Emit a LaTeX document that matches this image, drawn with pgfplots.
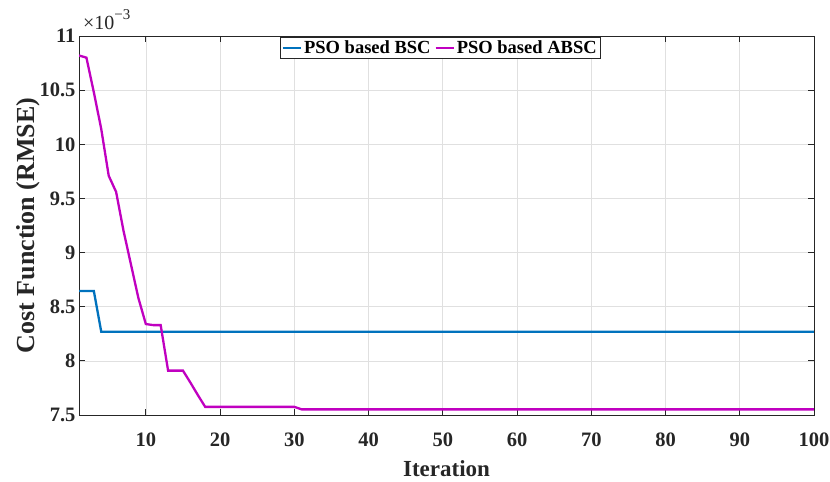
\documentclass[border=0pt]{standalone}
\usepackage{fontspec}
\setmainfont{Liberation Serif}
\usepackage{pgfplots}
\pgfplotsset{compat=1.18}
\definecolor{mblue}{RGB}{0,114,189}
\definecolor{mmag}{RGB}{192,0,192}
\definecolor{axgray}{RGB}{38,38,38}
\begin{document}
\begin{tikzpicture}
\begin{axis}[
  name=main,
  at={(0,0)}, anchor=south west,
  scale only axis,
  clip mode=individual,
  width=735bp, height=379bp,
  xmin=1, xmax=100, ymin=7.5, ymax=11,
  xtick={10,20,...,100},
  ytick={7.5,8,8.5,9,9.5,10,10.5,11},
  /pgf/number format/assume math mode=true,
  tick label style={font=\fontsize{20.5bp}{24bp}\selectfont\bfseries, text=axgray},
  xticklabel style={anchor=base, yshift=-31.5bp},
  xlabel={Iteration},
  ylabel={Cost Function (RMSE)},
  xlabel style={font=\fontsize{23bp}{27bp}\selectfont\bfseries, text=axgray,
    at={(axis description cs:0.5,0)}, anchor=base, yshift=-61.5bp},
  ylabel style={font=\fontsize{26bp}{30bp}\selectfont\bfseries, text=axgray,
    at={(axis description cs:-0.0599,0.5)}, anchor=base, rotate=0},
  grid=major,
  major grid style={color=black!12, line width=0.6bp},
  axis line style={color=axgray, line width=0.8bp},
  tick style={color=axgray, line width=0.8bp},
  tick align=inside,
  major tick length=6bp,
  legend columns=2,
  legend style={at={(0.4915,0.998)}, anchor=north, draw=axgray, line width=0.8bp,
    font=\fontsize{18.5bp}{21bp}\selectfont\bfseries, inner sep=1.5bp,
    /tikz/every even column/.append style={column sep=2bp}},
  legend image code/.code={\draw[#1, line width=2.3bp] (0bp,0bp) -- (18bp,0bp);},
]
\addplot[mblue, line width=2.3bp] coordinates {
(1,8.645) (2,8.645) (3,8.645) (4,8.268) (100,8.268)};
\addlegendentry{PSO based BSC}
\addplot[mmag, line width=2.3bp] coordinates {
(1,10.82) (2,10.80) (3,10.48) (4,10.14) (5,9.71) (6,9.56) (7,9.20) (8,8.89)
(9,8.58) (10,8.34) (11,8.33) (12,8.33) (13,7.91) (14,7.91) (15,7.91)
(16,7.80) (17,7.685) (18,7.575) (30,7.575) (31,7.552) (100,7.552)};
\addlegendentry{PSO based ABSC}
\node[anchor=base west, font=\fontsize{20bp}{22bp}\selectfont, text=axgray, inner sep=0pt]
  at (rel axis cs:0,1) [xshift=4bp, yshift=6bp] {×10\raisebox{0.5em}{\fontsize{15bp}{16bp}\selectfont −3}};
\end{axis}
\pgfresetboundingbox
\path (-79bp,-67bp) rectangle (751bp,415bp);
\end{tikzpicture}
\end{document}
